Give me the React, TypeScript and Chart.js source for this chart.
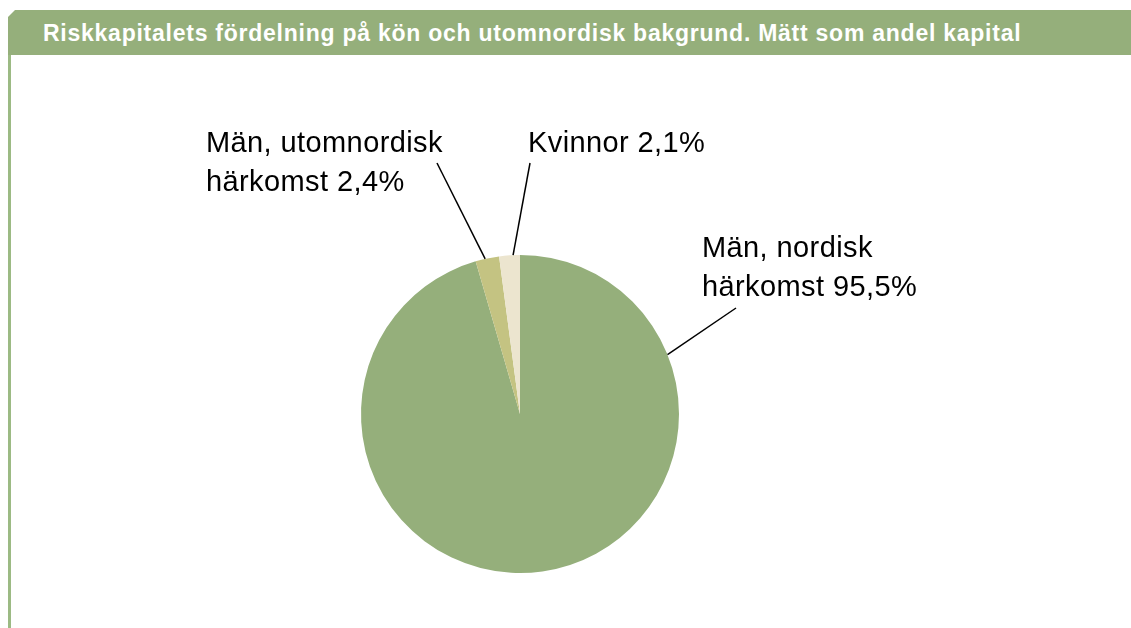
import React, { useEffect, useRef } from "react";
import { Chart, registerables } from "chart.js";

Chart.register(...registerables);

const TITLE = "Riskkapitalets fördelning på kön och utomnordisk bakgrund. Mätt som andel kapital";
const categoryLines: string[][] = [
  ["Män, nordisk", "härkomst"],
  ["Män, utomnordisk", "härkomst"],
  ["Kvinnor"],
];
const values: number[] = [95.5, 2.4, 2.1];
const colors: string[] = ["#95AF7B", "#C4C382", "#ECE5CF"];

// label placement (layout only)
const labelLayout = [
  { t: 0.198, textX: 702, textY: 257, lineEnd: [736, 308] },
  { t: 0.41, textX: 206, textY: 152, lineEnd: [437, 163] },
  { t: 0.67, textX: 528, textY: 152, lineEnd: [530, 163] },
];

const fmt = (v: number) => v.toFixed(1).replace(".", ",") + "%";

const labelPlugin = {
  id: "pieLabels",
  afterDraw(chart: any) {
    const ctx = chart.ctx;
    const meta = chart.getDatasetMeta(0);
    ctx.save();
    meta.data.forEach((arc: any, i: number) => {
      const lay = labelLayout[i];
      const p = arc.getProps(["x", "y", "startAngle", "endAngle", "outerRadius"], true);
      const a = p.startAngle + lay.t * (p.endAngle - p.startAngle);
      const sx = p.x + Math.cos(a) * p.outerRadius;
      const sy = p.y + Math.sin(a) * p.outerRadius;
      ctx.beginPath();
      ctx.strokeStyle = "#000";
      ctx.lineWidth = 1.5;
      ctx.moveTo(sx, sy);
      ctx.lineTo(lay.lineEnd[0], lay.lineEnd[1]);
      ctx.stroke();
      const lines = categoryLines[i].slice();
      lines[lines.length - 1] = lines[lines.length - 1] + " " + fmt(values[i]);
      ctx.fillStyle = "#000";
      ctx.font = '29px "Liberation Sans", Arial, sans-serif';
      (ctx as any).letterSpacing = "0.4px";
      ctx.textAlign = "left";
      ctx.textBaseline = "alphabetic";
      lines.forEach((ln, k) => {
        ctx.fillText(ln, lay.textX, lay.textY + k * 38.5);
      });
    });
    ctx.restore();
  },
};

export default function App() {
  const ref = useRef<HTMLCanvasElement | null>(null);
  useEffect(() => {
    if (!ref.current) return;
    const chart = new Chart(ref.current, {
      type: "pie",
      data: {
        labels: categoryLines.map((l) => l.join(" ")),
        datasets: [
          {
            data: values,
            backgroundColor: colors,
            borderWidth: 0,
          },
        ],
      },
      options: {
        responsive: false,
        animation: false,
        devicePixelRatio: 1,
        layout: { padding: { left: 361, top: 255, right: 452, bottom: 55 } },
        plugins: {
          legend: { display: false },
          tooltip: { enabled: false },
          title: { display: false },
        },
      },
      plugins: [labelPlugin],
    });
    return () => chart.destroy();
  }, []);

  return (
    <div
      style={{
        position: "absolute",
        left: 0,
        top: 0,
        width: 1131,
        height: 628,
        background: "#fff",
        overflow: "hidden",
      }}
    >
      <canvas ref={ref} width={1131} height={628} style={{ position: "absolute", left: 0, top: 0 }} />
      <div
        style={{
          position: "absolute",
          left: 8,
          top: 10,
          width: 1123,
          height: 45,
          background: "#95AF7B",
          clipPath: "polygon(7px 0, 100% 0, 100% 100%, 0 100%, 0 7px)",
          color: "#fff",
          fontFamily: '"Liberation Sans", Arial, sans-serif',
          fontWeight: "bold",
          fontSize: 23,
          letterSpacing: "0.75px",
          lineHeight: "47px",
          paddingLeft: 35,
          boxSizing: "border-box",
          whiteSpace: "nowrap",
        }}
      >
        {TITLE}
      </div>
      <div
        style={{
          position: "absolute",
          left: 8,
          top: 55,
          width: 3,
          height: 573,
          background: "#9CBA84",
        }}
      />
    </div>
  );
}
